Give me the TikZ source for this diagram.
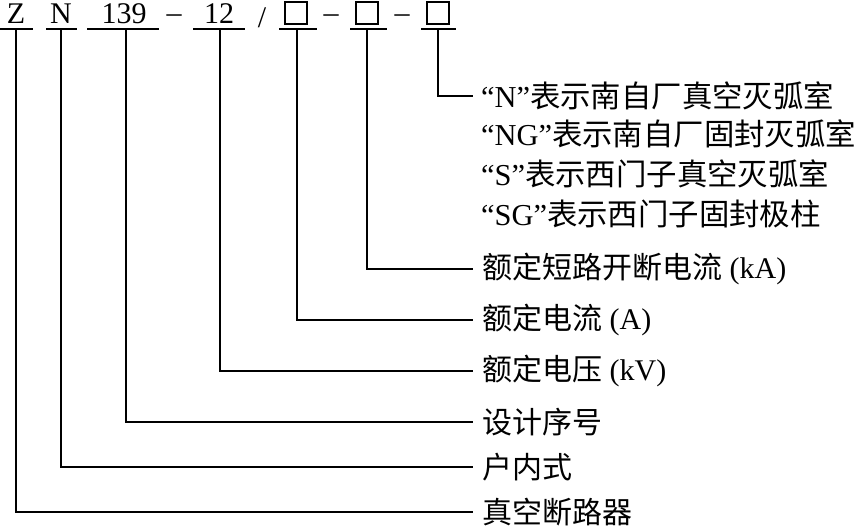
\documentclass[tikz,border=0pt]{standalone}
\usepackage{fontspec}
\setmainfont{Liberation Serif}
\newfontfamily\cjk{Noto Sans CJK SC}
\begin{document}
\begin{tikzpicture}[x=1pt,y=-1pt,
  code/.style={anchor=base, inner sep=0pt, font=\fontsize{30}{36}\selectfont},
  codebox/.style={draw, line width=1.1pt, minimum width=22pt, minimum height=22pt, inner sep=0pt},
  lbl/.style={anchor=west, inner xsep=9pt, inner ysep=0pt, font=\fontsize{30}{36}\selectfont},
  biglbl/.style={lbl, inner xsep=8pt, font=\fontsize{30.4}{36}\selectfont},
  wire/.style={line width=1.2pt},
  uline/.style={line width=1.2pt}]
\useasboundingbox (0,0) rectangle (862,526);
% code row
\node[code] (cZ) at (16,24) {Z};
\node[code] (cN) at (61,24) {N};
\node[code] (c139) at (124,24) {139};
\node[code] (d1) at (174,23) {–};
\node[code] (c12) at (219,24) {12};
\node[code] (sl) at (262,28) {/};
\node[codebox] (b1) at (296,13) {};
\node[code] (d2) at (331,23) {–};
\node[codebox] (b2) at (367,13) {};
\node[code] (d3) at (402,23) {–};
\node[codebox] (b3) at (438,13) {};
% underlines
\draw[uline] (0,29) -- (33,29);
\draw[uline] (46,29) -- (77,29);
\draw[uline] (87,29) -- (159,29);
\draw[uline] (193,29) -- (245,29);
\draw[uline] (279,29) -- (317,29);
\draw[uline] (350,29) -- (387,29);
\draw[uline] (421,29) -- (456,29);
\coordinate (uZ) at (16,29);
\coordinate (uN) at (61,29);
\coordinate (u139) at (126,29);
\coordinate (u12) at (220,29);
\coordinate (ub1) at (297,29);
\coordinate (ub2) at (367,29);
\coordinate (ub3) at (438,29);
% labels
\node[biglbl] (t1) at (473,96) {“N”{\cjk 表示南自厂真空灭弧室}};
\node[biglbl] (t2) at (473,134) {“NG”{\cjk 表示南自厂固封灭弧室}};
\node[biglbl] (t3) at (473,174) {“S”{\cjk 表示西门子真空灭弧室}};
\node[biglbl] (t4) at (473,214) {“SG”{\cjk 表示西门子固封极柱}};
\node[lbl] (t5) at (473,269) {{\cjk 额定短路开断电流} (kA)};
\node[lbl] (t6) at (473,320) {{\cjk 额定电流} (A)};
\node[lbl] (t7) at (473,371) {{\cjk 额定电压} (kV)};
\node[lbl] (t8) at (473,422) {{\cjk 设计序号}};
\node[lbl] (t9) at (473,467) {{\cjk 户内式}};
\node[lbl] (t10) at (473,512) {{\cjk 真空断路器}};
% connectors
\draw[wire] (ub3) |- (t1.west);
\draw[wire] (ub2) |- (t5.west);
\draw[wire] (ub1) |- (t6.west);
\draw[wire] (u12) |- (t7.west);
\draw[wire] (u139) |- (t8.west);
\draw[wire] (uN) |- (t9.west);
\draw[wire] (uZ) |- (t10.west);
\end{tikzpicture}
\end{document}
